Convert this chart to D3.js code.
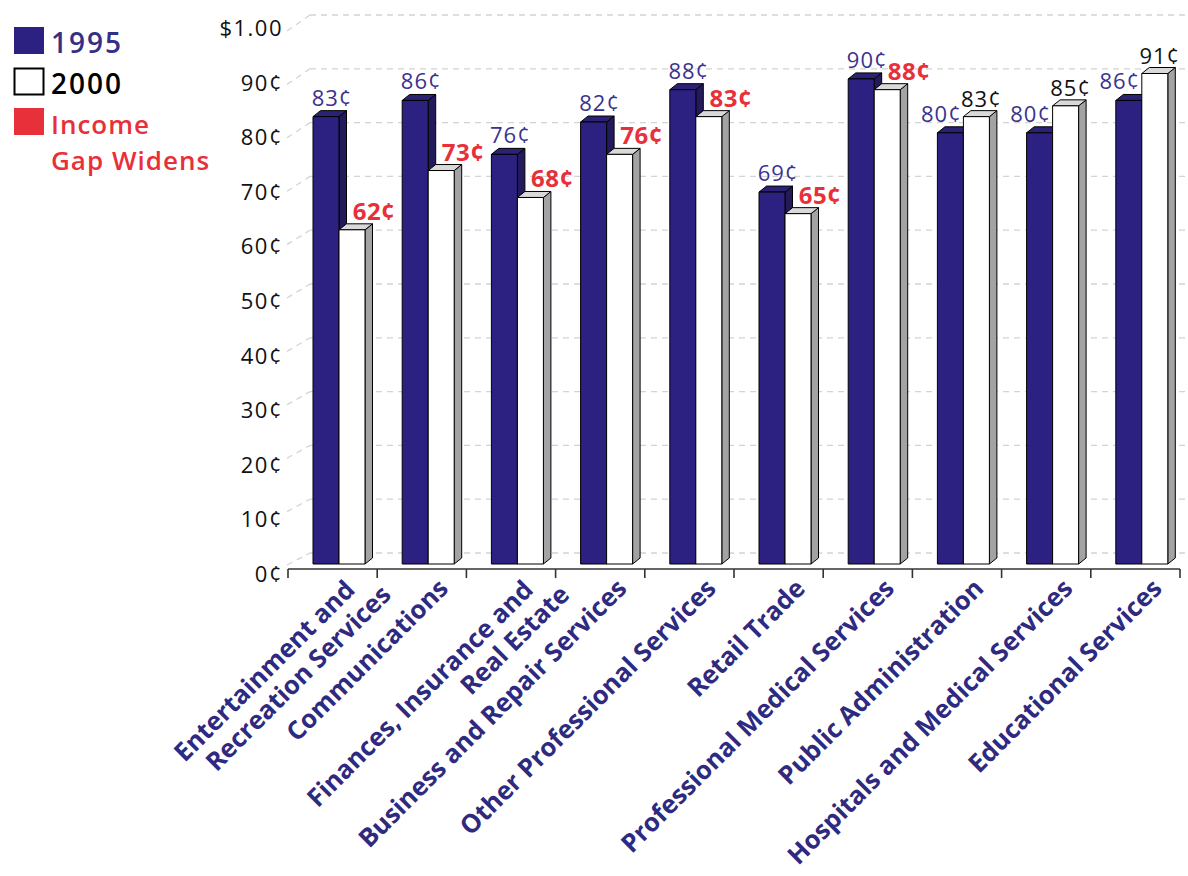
<!DOCTYPE html>
<html><head><meta charset="utf-8">
<script src="https://cdn.jsdelivr.net/npm/d3@7/dist/d3.min.js"></script>
<style>body{margin:0;background:#fff}svg{display:block}</style>
</head><body>
<script>
const categories = [
  ["Entertainment and","Recreation Services"],
  ["Communications"],
  ["Finances, Insurance and","Real Estate"],
  ["Business and Repair Services"],
  ["Other Professional Services"],
  ["Retail Trade"],
  ["Professional Medical Services"],
  ["Public Administration"],
  ["Hospitals and Medical Services"],
  ["Educational Services"]
];
const values1995 = [83,86,76,82,88,69,90,80,80,86];
const values2000 = [62,73,68,76,83,65,88,83,85,91];
const yTicks = [0,10,20,30,40,50,60,70,80,90,100];
const tickLabels = ["0¢","10¢","20¢","30¢","40¢","50¢","60¢","70¢","80¢","90¢","$1.00"];
const legendItems = [
  {label:["1995"], fill:"#2c2180", color:"#352f86"},
  {label:["2000"], fill:"#ffffff", color:"#000000"},
  {label:["Income","Gap Widens"], fill:"#e8303a", color:"#e8303a"}
];

const W = 1188, H = 876;
const FONT = "'Open Sans', 'Noto Sans', sans-serif";
const svg = d3.select("body").append("svg").attr("width", W).attr("height", H);

const idx = categories.map((d,i)=>i);
const x = d3.scaleBand().domain(idx).range([288, 1180]).paddingInner(0).paddingOuter(0);
const y = d3.scaleLinear().domain([0,100]).range([564, 25]);      // bars
const yBack = d3.scaleLinear().domain([0,100]).range([553, 15]);  // back wall
const yFront = d3.scaleLinear().domain([0,100]).range([565, 31]); // side-wall front edge
const yLab = d3.scaleLinear().domain([0,100]).range([573, 27]);   // tick labels

// gridlines
const grid = svg.append("g").attr("stroke", "#d4d4d4").attr("stroke-width", 1.3).attr("stroke-dasharray", "6,5").attr("fill","none");
yTicks.forEach(v => {
  grid.append("line").attr("x1", 287).attr("y1", yFront(v)).attr("x2", 310).attr("y2", yBack(v));
  grid.append("line").attr("x1", 310).attr("y1", yBack(v)).attr("x2", 1188).attr("y2", yBack(v));
});

// tick labels
svg.append("g").selectAll("text").data(yTicks).join("text")
  .attr("x", 283).attr("y", v => yLab(v))
  .attr("text-anchor","end").attr("dominant-baseline","central")
  .attr("font-family", FONT).attr("font-size", 22).attr("letter-spacing", 1.5)
  .attr("fill","#111")
  .text((v,i)=>tickLabels[i]);

// axis
const axis = svg.append("g").attr("stroke","#333").attr("stroke-width",1.6);
axis.append("line").attr("x1",288).attr("x2",1180).attr("y1",569).attr("y2",569);
d3.range(categories.length+1).forEach(i=>{
  const xx = i < categories.length ? x(i) : x.range()[1];
  axis.append("line").attr("x1",xx).attr("x2",xx).attr("y1",569).attr("y2",578);
});

// bars
const BW = 26, DX = 7.5, DY = -6;
function bar3d(g, x0, v, cFront, cTop, cSide) {
  const yt = y(v), yb = y(0);
  const s = {stroke:"#000", "stroke-width":1, "stroke-linejoin":"round"};
  const side = g.append("path").attr("d", `M${x0+BW},${yb}L${x0+BW+DX},${yb+DY}L${x0+BW+DX},${yt+DY}L${x0+BW},${yt}Z`).attr("fill", cSide);
  const top = g.append("path").attr("d", `M${x0},${yt}L${x0+DX},${yt+DY}L${x0+BW+DX},${yt+DY}L${x0+BW},${yt}Z`).attr("fill", cTop);
  const front = g.append("rect").attr("x", x0).attr("y", yt).attr("width", BW).attr("height", yb-yt).attr("fill", cFront);
  [side, top, front].forEach(el => Object.entries(s).forEach(([k,val])=>el.attr(k,val)));
}
const barsG = svg.append("g");
idx.forEach(i=>{
  const s = x(i);
  bar3d(barsG, s+25, values1995[i], "#2c2180", "#2b2275", "#231a5c");
  bar3d(barsG, s+25+BW, values2000[i], "#ffffff", "#d9d9d9", "#a3a3a6");
});

// value labels
const labG = svg.append("g").attr("font-family", FONT).attr("font-size", 22).attr("letter-spacing", 1);
idx.forEach(i=>{
  const s = x(i);
  const widens = values2000[i] < values1995[i];
  labG.append("text")
    .attr("x", s + (widens ? 44 : 29)).attr("y", y(values1995[i]) - 11)
    .attr("text-anchor","middle").attr("fill","#3a3290")
    .text(values1995[i] + "¢");
  labG.append("text")
    .attr("x", s + (widens ? 86 : 69)).attr("y", y(values2000[i]) - 10)
    .attr("text-anchor","middle")
    .attr("fill", widens ? "#e8303a" : "#111")
    .attr("font-weight", widens ? 700 : 400)
    .attr("font-size", widens ? 24 : 22)
    .attr("letter-spacing", widens ? 0.5 : 1)
    .text(values2000[i] + "¢");
});

// category labels
const catG = svg.append("g").attr("font-family", FONT).attr("font-size", 25.5).attr("font-weight", 700).attr("fill","#2e2a80");
idx.forEach(i=>{
  const ax = x(i) + x.bandwidth()/2 + 28, ay = 590;
  const t = catG.append("text").attr("transform", `translate(${ax},${ay}) rotate(-45)`).attr("text-anchor","end");
  const lines = categories[i];
  if (lines.length === 1) {
    t.append("tspan").attr("x",0).attr("y",0).text(lines[0]);
  } else {
    t.append("tspan").attr("x",-4).attr("y",-2).text(lines[0]);
    t.append("tspan").attr("x",18).attr("y",27).text(lines[1]);
  }
});

// legend
const leg = svg.append("g").attr("font-family", FONT).attr("font-size", 28).attr("font-weight", 600);
const legY = [27, 68, 108];
legendItems.forEach((d,i)=>{
  leg.append("rect").attr("x",14.5).attr("y",legY[i]+0.5).attr("width",29).attr("height",26)
    .attr("fill", d.fill).attr("stroke", i===1 ? "#000" : d.fill).attr("stroke-width", i===1 ? 2 : 1);
  const fs = d.label.length > 1 ? 26 : 28;
  const t = leg.append("text").attr("fill", d.color).attr("font-size", fs).attr("letter-spacing", i<2 ? 2 : 1);
  d.label.forEach((l,j)=>{
    t.append("tspan").attr("x",51).attr("y", legY[i] + 26 + j*35.5).text(l);
  });
});
</script>
</body></html>
